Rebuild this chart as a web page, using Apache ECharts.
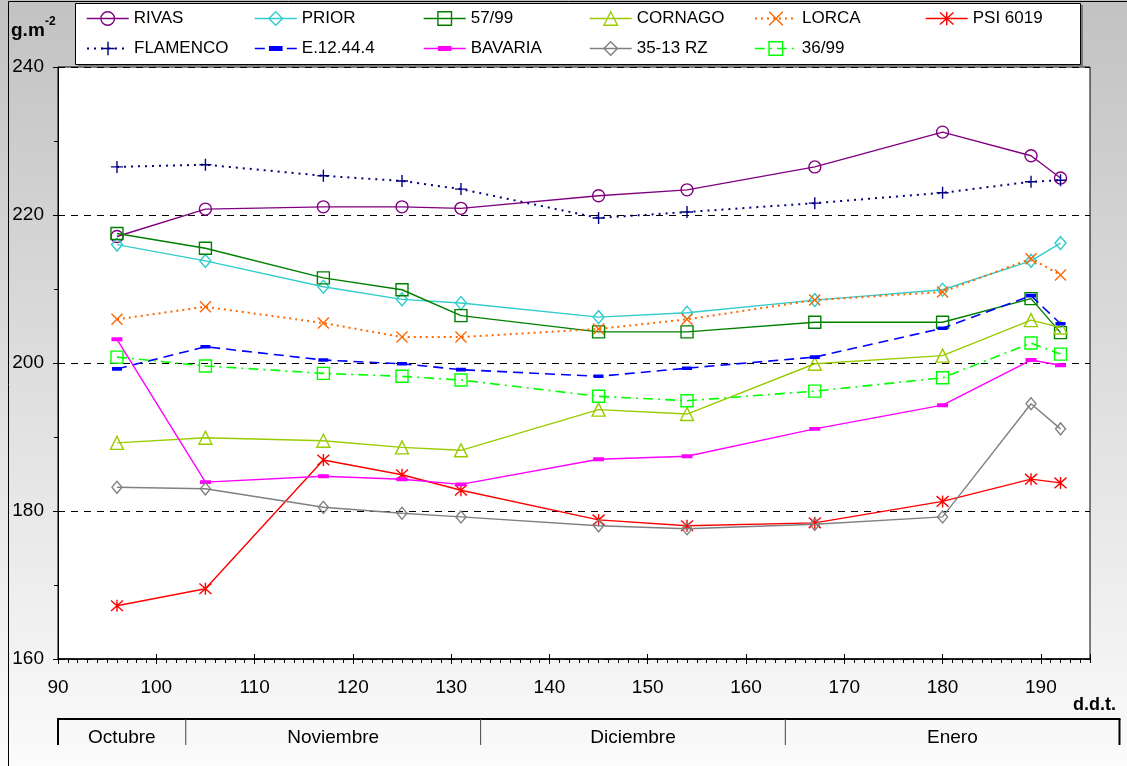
<!DOCTYPE html>
<html>
<head>
<meta charset="utf-8">
<script src="https://cdn.jsdelivr.net/npm/echarts/dist/echarts.min.js"></script>
<style>html,body{margin:0;padding:0;background:#fff;}#c{width:1127px;height:766px;}</style>
</head>
<body>
<div id="c"></div>
<script>
// ---- data ----
const days     = [96, 105, 117, 125, 131, 145, 154, 167, 180, 189, 192];
const rivas    = [217.1, 220.8, 221.1, 221.1, 220.9, 222.6, 223.4, 226.5, 231.2, 228.0, 225.0];
const prior    = [216.0, 213.8, 210.3, 208.6, 208.1, 206.2, 206.8, 208.5, 209.9, 213.8, 216.2];
const s5799    = [217.5, 215.5, 211.5, 209.9, 206.4, 204.2, 204.2, 205.5, 205.5, 208.7, 204.1];
const cornago  = [189.2, 189.9, 189.5, 188.6, 188.2, 193.7, 193.1, 199.9, 201.0, 205.8, 204.8];
const lorca    = [205.9, 207.6, 205.4, 203.5, 203.5, 204.6, 205.9, 208.5, 209.6, 214.1, 211.9];
const psi6019  = [167.2, 169.5, 186.9, 184.9, 182.8, 178.8, 178.0, 178.4, 181.3, 184.3, 183.8];
const flamenco = [226.5, 226.8, 225.3, 224.6, 223.5, 219.6, 220.4, 221.6, 223.0, 224.5, 224.7];
const e12444   = [199.2, 202.2, 200.4, 199.9, 199.1, 198.2, 199.3, 200.8, 204.7, 209.1, 205.3];
const bavaria  = [203.2, 183.9, 184.7, 184.3, 183.6, 187.0, 187.4, 191.1, 194.3, 200.4, 199.7];
const rz3513   = [183.2, 183.0, 180.5, 179.7, 179.2, 178.0, 177.6, 178.2, 179.2, 194.5, 191.1];
const s3699    = [200.8, 199.6, 198.6, 198.2, 197.7, 195.5, 194.9, 196.2, 198.0, 202.7, 201.2];
const seriesNames = ['RIVAS','PRIOR','57/99','CORNAGO','LORCA','PSI 6019','FLAMENCO','E.12.44.4','BAVARIA','35-13 RZ','36/99'];
const months = ['Octubre','Noviembre','Diciembre','Enero'];
const monthBounds = [90, 103, 133, 164, 198];
const xTitle = 'd.d.t.';

// ---- styling ----
const FONT = 'Arial, "Liberation Sans", sans-serif';
const SYM = {
  x: 'path://M0,0L10,10M10,0L0,10',
  star: 'path://M5,0L5,10M0.6,0.6L9.4,9.4M9.4,0.6L0.6,9.4',
  plus: 'path://M5,0L5,10M0,5L10,5',
  bar: 'path://M0,0L0.01,0M10,10L9.99,10M0,3.2L10,3.2L10,6.8L0,6.8Z'
};
const styles = [
  {c:'#800080', s:'circle',   z:12,      t:'solid',      w:1.4, k:'hollow'},
  {c:'#33CCCC', s:'diamond',  z:[11,13], t:'solid',      w:1.4, k:'hollow'},
  {c:'#008000', s:'rect',     z:12,      t:'solid',      w:1.4, k:'hollow'},
  {c:'#99CC00', s:'triangle', z:13,      t:'solid',      w:1.4, k:'hollow'},
  {c:'#FF6600', s:SYM.x,      z:11,      t:[2,4],        w:2,   k:'hollow'},
  {c:'#FF0000', s:SYM.star,   z:12,      t:'solid',      w:1.4, k:'hollow'},
  {c:'#000080', s:SYM.plus,   z:12,      t:[2,5],        w:2,   k:'hollow'},
  {c:'#0000FF', s:SYM.bar,    z:10,      t:[10,6],       w:1.6, k:'filled'},
  {c:'#FF00FF', s:SYM.bar,    z:11,      t:'solid',      w:1.4, k:'filled'},
  {c:'#808080', s:'diamond',  z:[10,12], t:'solid',      w:1.4, k:'hollow'},
  {c:'#00FF00', s:'rect',     z:12,      t:[10,5,2,5],   w:1.6, k:'hollow'}
];
const values = [rivas, prior, s5799, cornago, lorca, psi6019, flamenco, e12444, bavaria, rz3513, s3699];

function itemStyleOf(st){
  return st.k === 'filled'
    ? {color: st.c, borderWidth: 0}
    : {color: 'rgba(0,0,0,0)', borderColor: st.c, borderWidth: 1.4};
}

const series = seriesNames.map((name, i) => {
  const st = styles[i];
  return {
    name, type: 'line', xAxisIndex: 0, yAxisIndex: 0,
    data: days.map((d, j) => [d, values[i][j]]),
    symbol: st.s, symbolSize: st.z, showSymbol: true,
    lineStyle: {color: st.c, width: st.w, type: st.t},
    itemStyle: itemStyleOf(st),
    emphasis: {disabled: true},
    animation: false, z: 3 + i * 0.01
  };
});

const legendLeft = [86, 254, 423, 589, 754, 925];
const legends = seriesNames.map((name, i) => {
  const st = styles[i];
  return {
    data: [name], left: legendLeft[i % 6], top: i < 6 ? 10 : 40,
    orient: 'horizontal', padding: 0, itemWidth: 42, itemHeight: 17,
    selectedMode: false,
    textStyle: {fontSize: 17, color: '#000', fontFamily: FONT},
    itemStyle: st.k === 'filled' ? {borderWidth: 0} : {borderWidth: 1.4},
    lineStyle: {width: st.w},
    z: 5
  };
});

const chart = echarts.init(document.getElementById('c'), null, {renderer: 'canvas'});
const axisBase = {
  type: 'value', min: 90, max: 195, position: 'bottom',
  axisLine: {show: false, onZero: false}, axisLabel: {show: false},
  splitLine: {show: false}
};
chart.setOption({
  animation: false,
  backgroundColor: {type: 'linear', x: 0, y: 0, x2: 0, y2: 1,
    colorStops: [{offset: 0, color: '#c2c2c2'}, {offset: 1, color: '#fbfbfb'}]},
  grid: {left: 58, top: 67, right: 37, bottom: 107, show: true, backgroundColor: '#fff',
         borderColor: '#000', borderWidth: 1, outerBoundsMode: 'none', containLabel: false},
  legend: legends,
  xAxis: [
    Object.assign({}, axisBase, {
      interval: 10,
      axisLine: {show: true, onZero: false, lineStyle: {color: '#000', width: 1.5}},
      axisTick: {show: true, length: 5, lineStyle: {color: '#000', width: 1}},
      axisLabel: {show: true, margin: 19, fontSize: 19, color: '#000', fontFamily: FONT, showMaxLabel: false}
    }),
    Object.assign({}, axisBase, {
      interval: 10,
      axisTick: {show: true, inside: true, length: 5, lineStyle: {color: '#000', width: 1}}
    }),
    Object.assign({}, axisBase, {
      interval: 1,
      axisTick: {show: true, length: 4, lineStyle: {color: '#000', width: 1}}
    })
  ],
  yAxis: {
    type: 'value', min: 160, max: 240, interval: 20,
    axisLine: {show: true, lineStyle: {color: '#000', width: 1}},
    axisTick: {show: true, length: 5, lineStyle: {color: '#000'}},
    minorTick: {show: true, splitNumber: 2, length: 4, lineStyle: {color: '#000'}},
    axisLabel: {margin: 14, fontSize: 19, color: '#000', fontFamily: FONT},
    splitLine: {show: true, lineStyle: {color: '#000', type: [7, 6], width: 1}}
  },
  series
});

// ---- decorations (titles, legend frame, month bar) ----
const px = monthBounds.map(v => chart.convertToPixel({xAxisIndex: 0}, v));
const yLine = 719, yBot = 745;
const els = [];
els.push({type: 'rect', silent: true, z: 0, shape: {x: 8.5, y: 1.5, width: 1300, height: 1300},
  style: {fill: 'none', stroke: '#000', lineWidth: 1}});
els.push({type: 'rect', silent: true, z: 1, shape: {x: 78, y: 5, width: 1005, height: 62},
  style: {fill: '#7a7a7a'}});
els.push({type: 'rect', silent: true, z: 2, shape: {x: 75.5, y: 3.5, width: 1005, height: 61},
  style: {fill: '#fff', stroke: '#000', lineWidth: 1}});
els.push({type: 'text', silent: true, z: 3, style: {text: 'g.m', x: 11, y: 31, fill: '#000',
  font: 'bold 19px ' + FONT, textAlign: 'left', align: 'left', textVerticalAlign: 'middle', verticalAlign: 'middle'}});
els.push({type: 'text', silent: true, z: 3, style: {text: '-2', x: 45, y: 22, fill: '#000',
  font: 'bold 12px ' + FONT, textAlign: 'left', align: 'left', textVerticalAlign: 'middle', verticalAlign: 'middle'}});
els.push({type: 'text', silent: true, z: 3, style: {text: xTitle, x: 1073, y: 705, fill: '#000',
  font: 'bold 18px ' + FONT, textAlign: 'left', align: 'left', textVerticalAlign: 'middle', verticalAlign: 'middle'}});
els.push({type: 'line', silent: true, z: 3, shape: {x1: px[0] - 1, y1: yLine, x2: px[px.length - 1] + 1, y2: yLine},
  style: {stroke: '#000', lineWidth: 2}});
px.forEach((p, i) => {
  const edge = (i === 0 || i === px.length - 1);
  els.push({type: 'line', silent: true, z: 3, shape: {x1: p, y1: yLine, x2: p, y2: yBot},
    style: {stroke: edge ? '#000' : '#444', lineWidth: edge ? 2 : 1}});
});
months.forEach((m, i) => {
  els.push({type: 'text', silent: true, z: 3, style: {text: m, x: (px[i] + px[i + 1]) / 2, y: 738, fill: '#000',
    font: '19px ' + FONT, textAlign: 'center', align: 'center', textVerticalAlign: 'middle', verticalAlign: 'middle'}});
});
chart.setOption({graphic: {elements: els}});
</script>
</body>
</html>
